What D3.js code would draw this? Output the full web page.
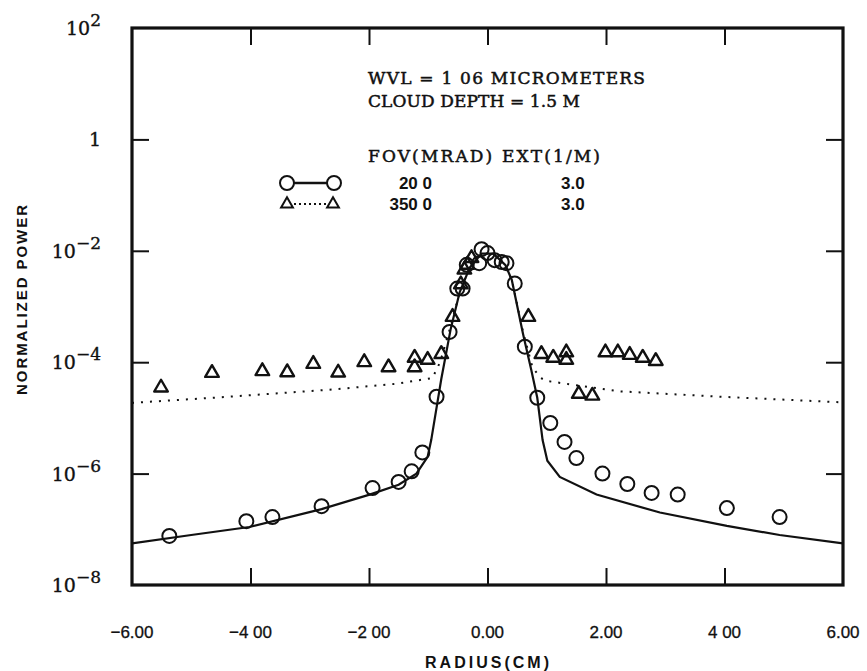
<!DOCTYPE html>
<html>
<head>
<meta charset="utf-8">
<script src="https://cdn.jsdelivr.net/npm/d3@7"></script>
<style>
  html, body { margin: 0; padding: 0; background: #fff; }
  svg { display: block; }
</style>
</head>
<body>
<svg id="chart" width="867" height="671"></svg>
<script>
// ---------------- DATA ----------------
const xTickValues = [-6, -4, -2, 0, 2, 4, 6];
const xTickLabels = ["\u22126.00", "\u22124 00", "\u22122 00", "0.00", "2.00", "4 00", "6.00"];
const yTickExponents = [2, 0, -2, -4, -6, -8];

// FOV 20 mrad, model (solid line)
const model20X = [-6.0, -5.0, -4.02, -2.8, -1.99, -1.5, -1.2, -1.01, -0.95, -0.78, -0.62, -0.47, -0.3, -0.1, 0.1, 0.3, 0.41, 0.6, 0.74, 0.84, 0.93, 1.01, 1.22, 1.84, 2.91, 4.04, 4.93, 6.0];
const model20Y = [5.6e-8, 7.9e-8, 1.1e-7, 2.3e-7, 4.2e-7, 6.3e-7, 1.0e-6, 2.0e-6, 4.0e-6, 5.0e-5, 4.0e-4, 1.8e-3, 5.0e-3, 8.9e-3, 8.9e-3, 5.6e-3, 3.0e-3, 3.2e-4, 7.2e-5, 2.3e-5, 4.0e-6, 1.7e-6, 8.7e-7, 4.2e-7, 2.0e-7, 1.15e-7, 7.9e-8, 5.6e-8];

// FOV 350 mrad, model (dotted line)
const model350X = [-6.0, -4.36, -2.67, -1.54, -0.93, -0.8, -0.62, -0.47, -0.3, -0.1, 0.1, 0.3, 0.41, 0.6, 0.76, 0.9, 1.0, 2.23, 3.92, 6.0];
const model350Y = [1.86e-5, 2.4e-5, 3.2e-5, 4.1e-5, 5.2e-5, 1.0e-4, 4.5e-4, 1.8e-3, 5.0e-3, 8.9e-3, 8.9e-3, 5.6e-3, 3.0e-3, 3.5e-4, 8.0e-5, 5.2e-5, 4.6e-5, 3.0e-5, 2.4e-5, 1.9e-5];

// FOV 20 mrad, measured (circles)
const data20X = [-5.37, -4.07, -3.63, -2.80, -1.94, -1.50, -1.28, -1.10, -0.86, -0.64, -0.51, -0.42, -0.35, -0.14, -0.10, 0.00, 0.12, 0.24, 0.32, 0.46, 0.63, 0.84, 1.06, 1.30, 1.50, 1.94, 2.36, 2.77, 3.21, 4.04, 4.93];
const data20Y = [7.6e-8, 1.4e-7, 1.66e-7, 2.6e-7, 5.5e-7, 7.1e-7, 1.1e-6, 2.4e-6, 2.4e-5, 3.5e-4, 2.1e-3, 2.1e-3, 5.6e-3, 6.0e-3, 1.07e-2, 9.1e-3, 6.8e-3, 6.3e-3, 6.0e-3, 2.6e-3, 1.9e-4, 2.3e-5, 8.1e-6, 3.7e-6, 1.9e-6, 1.0e-6, 6.5e-7, 4.5e-7, 4.2e-7, 2.4e-7, 1.66e-7];

// FOV 350 mrad, measured (triangles)
const data350X = [-5.51, -4.65, -3.80, -3.38, -2.94, -2.52, -2.08, -1.67, -1.23, -1.23, -1.01, -0.78, -0.59, -0.45, -0.39, -0.34, -0.27, 0.69, 0.91, 1.11, 1.33, 1.33, 1.54, 1.77, 1.99, 2.20, 2.40, 2.62, 2.84];
const data350Y = [3.5e-5, 6.4e-5, 6.9e-5, 6.6e-5, 9.3e-5, 6.5e-5, 1.0e-4, 8.1e-5, 1.2e-4, 8.1e-5, 1.1e-4, 1.4e-4, 6.5e-4, 2.5e-3, 4.6e-3, 5.6e-3, 7.4e-3, 6.5e-4, 1.4e-4, 1.2e-4, 1.5e-4, 1.1e-4, 2.7e-5, 2.5e-5, 1.5e-4, 1.5e-4, 1.35e-4, 1.2e-4, 1.05e-4];

const legendFov = ["20 0", "350 0"];
const legendExt = ["3.0", "3.0"];
const annotation = ["WVL = 1 06 MICROMETERS", "CLOUD DEPTH = 1.5 M"];
const legendHeader = "FOV(MRAD) EXT(1/M)";
const xTitle = "RADIUS(CM)";
const yTitle = "NORMALIZED POWER";

// ---------------- DRAW ----------------
const svg = d3.select("#chart");
const L = 132, R = 843, T = 28, B = 585;
const x = d3.scaleLinear().domain([-6, 6]).range([L, R]);
const y = d3.scaleLog().domain([1e-8, 1e2]).range([B, T]);
const ink = "#111";
const serif = "'DejaVu Serif', 'Liberation Serif', serif";
const sans = "'Liberation Sans', Arial, sans-serif";

// frame
svg.append("rect").attr("x", L).attr("y", T).attr("width", R - L).attr("height", B - T)
  .attr("fill", "none").attr("stroke", ink).attr("stroke-width", 3.2);

// inner ticks via d3 axes (tick marks only)
const tickLen = 17;
const innerX = xTickValues.filter(v => v > -6 && v < 6);
const innerY = yTickExponents.filter(e => e < 2 && e > -8).map(e => Math.pow(10, e));
svg.append("g").attr("transform", `translate(0,${B})`)
  .call(d3.axisTop(x).tickValues(innerX).tickSize(tickLen).tickFormat(""))
  .call(g => g.select(".domain").remove());
svg.append("g").attr("transform", `translate(0,${T})`)
  .call(d3.axisBottom(x).tickValues(innerX).tickSize(tickLen).tickFormat(""))
  .call(g => g.select(".domain").remove());
svg.append("g").attr("transform", `translate(${L},0)`)
  .call(d3.axisRight(y).tickValues(innerY).tickSize(tickLen).tickFormat(""))
  .call(g => g.select(".domain").remove());
svg.append("g").attr("transform", `translate(${R},0)`)
  .call(d3.axisLeft(y).tickValues(innerY).tickSize(tickLen).tickFormat(""))
  .call(g => g.select(".domain").remove());
svg.selectAll(".tick line").attr("stroke", ink).attr("stroke-width", 2);

// x tick labels
svg.append("g").selectAll("text").data(xTickValues).join("text")
  .attr("x", d => x(d)).attr("y", 638)
  .attr("text-anchor", "middle")
  .attr("font-family", sans).attr("font-size", 17).attr("fill", ink)
  .attr("stroke", ink).attr("stroke-width", 0.3)
  .text((d, i) => xTickLabels[i]);

// y tick labels
const labRight = 101;
const yl = svg.append("g").selectAll("text").data(yTickExponents).join("text")
  .attr("x", labRight)
  .attr("y", e => y(Math.pow(10, e)) + 7)
  .attr("text-anchor", "end")
  .attr("font-family", serif).attr("font-size", 19).attr("fill", ink)
  .attr("stroke", ink).attr("stroke-width", 0.35);
yl.each(function(e) {
  const t = d3.select(this);
  if (e === 0) { t.text("1"); return; }
  t.append("tspan").text("10");
  t.append("tspan").attr("dy", -9).attr("font-size", 17).text(e < 0 ? "\u2212" + (-e) : String(e));
});

// axis titles
svg.append("text").attr("x", 487).attr("y", 668).attr("text-anchor", "middle")
  .attr("font-family", sans).attr("font-size", 16).attr("font-weight", "bold")
  .attr("fill", ink).attr("textLength", 124).text(xTitle);
svg.append("text").attr("transform", "translate(27,300) rotate(-90)").attr("text-anchor", "middle")
  .attr("font-family", sans).attr("font-size", 15).attr("font-weight", "bold")
  .attr("fill", ink).attr("textLength", 190).text(yTitle);

// clip
svg.append("clipPath").attr("id", "clip").append("rect")
  .attr("x", L).attr("y", T).attr("width", R - L).attr("height", B - T);
const plot = svg.append("g").attr("clip-path", "url(#clip)");

const line = d3.line().x(d => x(d[0])).y(d => y(d[1]));
plot.append("path").datum(d3.zip(model20X, model20Y)).attr("d", line)
  .attr("fill", "none").attr("stroke", ink).attr("stroke-width", 2.2);
plot.append("path").datum(d3.zip(model350X, model350Y)).attr("d", line)
  .attr("fill", "none").attr("stroke", ink).attr("stroke-width", 2)
  .attr("stroke-dasharray", "2,7");

// circles
plot.append("g").selectAll("circle").data(d3.zip(data20X, data20Y)).join("circle")
  .attr("cx", d => x(d[0])).attr("cy", d => y(d[1])).attr("r", 7)
  .attr("fill", "none").attr("stroke", ink).attr("stroke-width", 2);

// triangles
const tri = d3.symbol().type(d3.symbolTriangle).size(80);
plot.append("g").selectAll("path").data(d3.zip(data350X, data350Y)).join("path")
  .attr("transform", d => `translate(${x(d[0])},${y(d[1])})`)
  .attr("d", tri())
  .attr("fill", "none").attr("stroke", ink).attr("stroke-width", 2.4).attr("stroke-linejoin", "round");

// annotations
const annFont = { family: serif, size: 17 };
svg.append("text").attr("x", 368).attr("y", 84).attr("font-family", annFont.family)
  .attr("font-size", annFont.size).attr("fill", ink).attr("stroke", ink).attr("stroke-width", 0.5)
  .attr("textLength", 277).text(annotation[0]);
svg.append("text").attr("x", 368).attr("y", 107).attr("font-family", annFont.family)
  .attr("font-size", annFont.size).attr("fill", ink).attr("stroke", ink).attr("stroke-width", 0.5)
  .attr("textLength", 212).text(annotation[1]);
svg.append("text").attr("x", 368).attr("y", 162).attr("font-family", annFont.family)
  .attr("font-size", annFont.size).attr("fill", ink).attr("stroke", ink).attr("stroke-width", 0.5)
  .attr("textLength", 232).text(legendHeader);

// legend rows
const rowsY = [183, 204];
svg.append("line").attr("x1", 294).attr("x2", 327).attr("y1", rowsY[0]).attr("y2", rowsY[0])
  .attr("stroke", ink).attr("stroke-width", 2.5);
[287, 334].forEach(cx => svg.append("circle").attr("cx", cx).attr("cy", rowsY[0]).attr("r", 7)
  .attr("fill", "none").attr("stroke", ink).attr("stroke-width", 2));
svg.append("line").attr("x1", 294).attr("x2", 326).attr("y1", rowsY[1]).attr("y2", rowsY[1])
  .attr("stroke", ink).attr("stroke-width", 1.8).attr("stroke-dasharray", "2,3");
[287, 333].forEach(cx => svg.append("path").attr("transform", `translate(${cx},${rowsY[1]})`)
  .attr("d", d3.symbol().type(d3.symbolTriangle).size(60)())
  .attr("fill", "none").attr("stroke", ink).attr("stroke-width", 2));
[0, 1].forEach(i => {
  svg.append("text").attr("x", 432).attr("y", rowsY[i] + 6).attr("text-anchor", "end")
    .attr("font-family", sans).attr("font-size", 17).attr("font-weight", "bold").attr("fill", ink).text(legendFov[i]);
  svg.append("text").attr("x", 561).attr("y", rowsY[i] + 6)
    .attr("font-family", sans).attr("font-size", 17).attr("font-weight", "bold").attr("fill", ink).text(legendExt[i]);
});
</script>
</body>
</html>
